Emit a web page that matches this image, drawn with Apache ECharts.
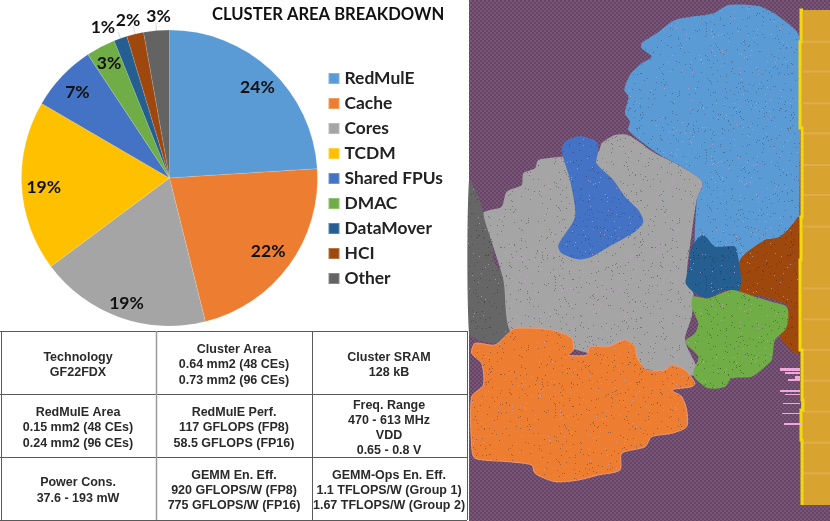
<!DOCTYPE html>
<html><head><meta charset="utf-8">
<style>html,body{margin:0;padding:0;background:#fff}#c{width:830px;height:521px}</style>
<script src="https://cdn.jsdelivr.net/npm/echarts@6/dist/echarts.min.js"></script>
</head><body><div id="c"></div>
<script>
const categories=['RedMulE','Cache','Cores','TCDM','Shared FPUs','DMAC','DataMover','HCI','Other'];
const areaShare=[24,22.1,18.7,18.6,7.3,3.2,1.45,1.85,2.8];
const sliceColors=['#5b9bd5','#ed7d31','#a5a5a5','#ffc000','#4472c4','#70ad47','#255e91','#9e480e','#636363'];
const labelRadius=[124,118,128,124,125,129,0,0,0];
const chartTitle='CLUSTER AREA BREAKDOWN';
const tableRows=[
 ['Technology\nGF22FDX','Cluster Area\n0.64 mm2 (48 CEs)\n0.73 mm2 (96 CEs)','Cluster SRAM\n128 kB'],
 ['RedMulE Area\n0.15 mm2 (48 CEs)\n0.24 mm2 (96 CEs)','RedMulE Perf.\n117 GFLOPS (FP8)\n58.5 GFLOPS (FP16)','Freq. Range\n470 - 613 MHz\nVDD\n0.65 - 0.8 V'],
 ['Power Cons.\n37.6 - 193 mW','GEMM En. Eff.\n920 GFLOPS/W (FP8)\n775 GFLOPS/W (FP16)','GEMM-Ops En. Eff.\n1.1 TFLOPS/W (Group 1)\n1.67 TFLOPS/W (Group 2)']
];

function tile(base,alt,dark,light,density,w,h){
  const c=document.createElement('canvas');c.width=w;c.height=h;const g=c.getContext('2d');
  g.fillStyle=base;g.fillRect(0,0,w,h);
  if(alt){g.fillStyle=alt;for(let y=0;y<h;y+=2)for(let x=0;x<w;x+=2)if(((x+y)/2)%2===0)g.fillRect(x,y,2,2);}
  if(dark){let s=12345;const n=Math.round(w*h*density);
    for(let i=0;i<n;i++){s=(s*1103515245+12345)&0x7fffffff;const x=(s>>7)%w;s=(s*1103515245+12345)&0x7fffffff;const y=(s>>9)%h;
      g.globalAlpha=0.65;g.fillStyle=i%4===3?light:dark;g.fillRect(x,y,1,1);}}
  return {image:c,repeat:'repeat'};
}
const speck=(b,d)=>tile(b,null,d||'#4d4d5a','#c9a8c9',0.028,151,127);
const Z=a=>a.map(p=>[465+p[0]/3,p[1]/3]);
const poly=(pts,fill,extra)=>Object.assign({type:'polygon',silent:true,shape:{points:Z(pts),smooth:0.25},style:Object.assign({fill:fill},extra||{})});
const rect=(x,y,w,h,fill)=>({type:'rect',silent:true,shape:{x,y,width:w,height:h},style:{fill}});

const gfx=[];
// layout panel
gfx.push(rect(469,0,361,521,tile('#7b5577','#664666',null,null,0,4,4)));
gfx.push(poly([[12,540],[40,590],[55,640],[85,740],[85,780],[115,830],[135,950],[135,980],[120,1020],[90,1030],[40,1020],[12,1000]],speck('#666666','#3f3f3f')));
gfx.push(poly([[55,640],[75,630],[110,620],[125,575],[170,555],[175,520],[210,505],[220,480],[290,470],[400,455],[410,430],[450,405],[490,405],[570,460],[640,495],[712,545],[695,600],[680,700],[665,840],[685,880],[680,950],[660,1020],[695,1100],[700,1125],[600,1120],[300,1040],[140,1000],[115,840],[85,740]],speck('#a5a5a5','#5e5e62')));
gfx.push(poly([[530,130],[575,100],[630,60],[745,40],[790,15],[880,18],[935,45],[1003,110],[1005,400],[1003,640],[1000,700],[820,800],[700,800],[695,600],[712,545],[640,495],[570,455],[490,390],[495,365],[480,340],[490,290],[478,270],[495,225],[530,190],[560,170],[530,145]],speck('#5b9bd5','#3f5f7f')));
gfx.push(poly([[290,450],[300,425],[345,408],[395,425],[400,450],[395,490],[445,540],[480,590],[520,630],[535,665],[510,695],[440,735],[380,770],[340,778],[290,760],[280,735],[330,650],[315,540],[300,490]],speck('#4472c4','#2e4a80')));
gfx.push(poly([[825,780],[900,720],[945,710],[985,670],[1000,650],[1015,680],[1005,800],[1005,1060],[990,1060],[950,1020],[945,1000],[970,920],[900,890],[825,875]],speck('#9e480e','#5f2c10')));
gfx.push(poly([[680,740],[715,705],[750,740],[810,740],[820,775],[828,840],[820,875],[780,870],[730,893],[690,880],[662,850],[670,810]],speck('#255e91','#123650')));
gfx.push(poly([[685,890],[730,895],[800,870],[870,890],[920,905],[965,920],[970,960],[960,990],[930,1020],[920,1080],[900,1100],[860,1130],[800,1135],[780,1160],[730,1165],[690,1135],[685,1115],[700,1070],[660,1025],[690,1000],[700,970],[680,920]],speck('#70ad47','#3d5f28')));
gfx.push(poly([[20,1060],[30,1030],[90,1035],[130,1000],[150,985],[260,990],[320,1015],[325,1050],[310,1065],[365,1065],[375,1040],[430,1040],[480,1020],[510,1040],[515,1070],[545,1110],[600,1110],[620,1095],[660,1110],[690,1150],[680,1160],[620,1170],[650,1190],[665,1230],[665,1280],[620,1300],[560,1310],[540,1340],[470,1360],[465,1410],[400,1425],[340,1440],[270,1445],[210,1420],[200,1395],[130,1385],[30,1375],[20,1340],[20,1190],[55,1155],[50,1090]],speck('#ed7d31','#7a5038'),{stroke:'#ef9a72',lineWidth:1}));
// pad ring
gfx.push(rect(801,10,29,495,'#d8a32e'));
[125,215,310,400,495,585,680,865,958,1050,1142,1235,1328,1420].forEach(y=>gfx.push(rect(803,y/3-1,27,2,'#e0ad4c')));
gfx.push({type:'polyline',silent:true,shape:{points:[[803,10],[801,10],[801,42],[800,42],[800,128],[802,128],[802,217],[801,217],[801,260],[800,260],[800,350],[802,350],[802,400],[803,400],[803,410],[801,410],[801,440],[802,440],[802,505]]},style:{stroke:'#f3d80b',lineWidth:3,fill:'none'}});
[[780,368,20,3],[785,372,15,2],[795,376,5,3],[788,379,12,2],[780,390,20,2],[785,394,15,1],[783,403,17,1],[782,413,18,1],[784,423,17,2]].forEach(r=>gfx.push(rect(r[0],r[1],r[2],r[3],'#f0a8dc')));
// table
const xs=[1,156,312,467],ys=[331,394,457,520],colC=[78,234,389],rowC=[365,428,490.5];
ys.forEach(y=>gfx.push({type:'line',silent:true,shape:{x1:0,y1:y+.5,x2:467,y2:y+.5},style:{stroke:'#5a5a5a',lineWidth:1}}));
xs.forEach((x,i)=>gfx.push({type:'line',silent:true,shape:{x1:x+.5,y1:331,x2:x+.5,y2:520},style:{stroke:i===1?'#9a9a9a':'#5a5a5a',lineWidth:i===1?1.5:1}}));
tableRows.forEach((r,ri)=>r.forEach((t,ci)=>gfx.push({type:'text',silent:true,x:colC[ci],y:rowC[ri],style:{text:t,fill:'#2a2a2a',font:'bold 12.5px "Liberation Sans"',align:'center',verticalAlign:'middle',lineHeight:t.split('\n').length>3?14.7:15.3}})));

const total=areaShare.reduce((a,b)=>a+b,0);
const mid=i=>{let s=0;for(let k=0;k<i;k++)s+=areaShare[k];return (s+areaShare[i]/2)/total*2*Math.PI;};
const lineLen=[0,0,0,0,0,0,7,8,8];
const outerNudge={6:[2,-4],7:[12,-6],8:[20,-6]};
const chart=echarts.init(document.getElementById('c'),null,{renderer:'canvas'});
chart.setOption({
 animation:false,
 title:{text:chartTitle,left:212,top:6,padding:0,textStyle:{fontFamily:'Lato',fontWeight:'bold',fontSize:16.6,color:'#111'}},
 legend:{orient:'vertical',left:327.5,top:70,padding:0,itemWidth:11,itemHeight:11,itemGap:8,icon:'rect',data:categories,
   textStyle:{fontFamily:'Lato',fontWeight:'bold',fontSize:17.4,color:'#222',lineHeight:15,padding:[0,0,0,0]}},
 series:[{type:'pie',center:[169.5,178],radius:[0,148],startAngle:90,clockwise:true,avoidLabelOverlap:false,
   data:categories.map((n,i)=>{
     const outer=lineLen[i]>0;
     return {name:n,value:areaShare[i],itemStyle:{color:sliceColors[i]},
       label:{position:outer?'outside':'inside'},
       labelLine:{show:outer,length:lineLen[i],length2:0,lineStyle:{color:'#c8c8c8',width:.7}}};
   }),
   itemStyle:{borderColor:'rgba(255,255,255,.25)',borderWidth:.5},
   label:{show:true,formatter:p=>Math.round(p.value)+'%',fontFamily:'Lato',fontWeight:'bold',fontSize:17.5,color:'#111'},
   labelLayout:p=>{const i=p.dataIndex;if(!labelRadius[i])return {dx:outerNudge[i][0],dy:outerNudge[i][1]};const d=labelRadius[i]-74;return {dx:d*Math.sin(mid(i))+1,dy:-d*Math.cos(mid(i))+2};}
 }],
 graphic:gfx
});
</script></body></html>
